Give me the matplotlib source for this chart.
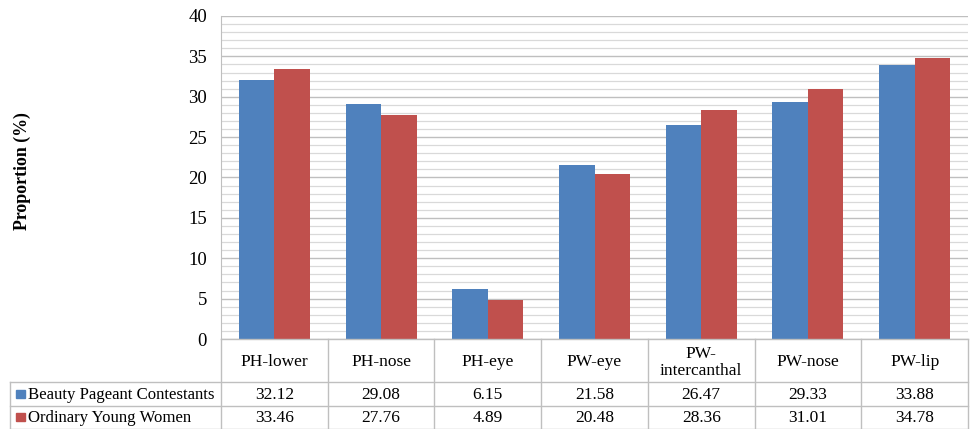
import matplotlib
matplotlib.use("Agg")
import matplotlib.pyplot as plt
from matplotlib.patches import Rectangle
import numpy as np

plt.rcParams["font.family"] = ["Liberation Serif", "DejaVu Serif"]

categories = ["PH-lower", "PH-nose", "PH-eye", "PW-eye", "PW-\nintercanthal", "PW-nose", "PW-lip"]
series_names = ["Beauty Pageant Contestants", "Ordinary Young Women"]
beauty = [32.12, 29.08, 6.15, 21.58, 26.47, 29.33, 33.88]
ordinary = [33.46, 27.76, 4.89, 20.48, 28.36, 31.01, 34.78]
colors = ["#4F81BD", "#C0504D"]

W, H = 972, 429
fig = plt.figure(figsize=(W / 100, H / 100), dpi=100)

# plot area in pixels
x0, x1 = 221, 968
ytop, ybot = 16, 339
ax = fig.add_axes([x0 / W, (H - ybot) / H, (x1 - x0) / W, (ybot - ytop) / H])

n = len(categories)
x = np.arange(n)
bw = 0.333
ax.bar(x - bw / 2, beauty, bw, color=colors[0], zorder=3)
ax.bar(x + bw / 2, ordinary, bw, color=colors[1], zorder=3)

ax.set_xlim(-0.5, n - 0.5)
ax.set_ylim(0, 40)
ax.set_yticks(range(0, 41, 5))
ax.set_yticks(range(0, 41, 1), minor=True)
ax.grid(which="major", axis="y", color="#BFBFBF", lw=1.0, zorder=0)
ax.grid(which="minor", axis="y", color="#D9D9D9", lw=0.9, zorder=0)
ax.set_xticks([])
ax.tick_params(axis="y", which="both", length=0, labelsize=13.5, pad=10)
for s in ["top", "right", "bottom"]:
    ax.spines[s].set_visible(False)
ax.spines["left"].set_color("#BFBFBF")

fig.text(22 / W, (H - 171) / H, "Proportion (%)", rotation=90,
         ha="center", va="center", fontsize=12.9, fontweight="bold")

# data table drawn in figure pixel coordinates
def fx(px):
    return px / W

def fy(py):
    return (H - py) / H

lc = "#BFBFBF"
tleft = 10
r_head, r1, r2, r3 = 339, 382, 405.5, 428.5
cw = (x1 - x0) / n
fs = 12.5

def hline(py, xa, xb):
    fig.add_artist(plt.Line2D([fx(xa), fx(xb)], [fy(py), fy(py)], color=lc, lw=1.0))

def vline(px, ya, yb):
    fig.add_artist(plt.Line2D([fx(px), fx(px)], [fy(ya), fy(yb)], color=lc, lw=1.0))

hline(r_head, x0, x1)
hline(r1, tleft, x1)
hline(r2, tleft, x1)
hline(r3, tleft, x1)
vline(tleft, r1, r3)
for i in range(n + 1):
    vline(x0 + i * cw, r_head, r3)

for i, cat in enumerate(categories):
    cx = x0 + (i + 0.5) * cw
    fig.text(fx(cx), fy((r_head + r1) / 2 + 2), cat, ha="center", va="center",
             fontsize=fs, linespacing=1.05)
    fig.text(fx(cx), fy((r1 + r2) / 2 + 1), f"{beauty[i]:.2f}", ha="center",
             va="center", fontsize=fs)
    fig.text(fx(cx), fy((r2 + r3) / 2 + 1), f"{ordinary[i]:.2f}", ha="center",
             va="center", fontsize=fs)

for j, (name, c) in enumerate(zip(series_names, colors)):
    yc = (r1 + r2) / 2 if j == 0 else (r2 + r3) / 2
    fig.add_artist(Rectangle((fx(16), fy(yc + 4)), fx(9), 8 / H, color=c))
    fig.text(fx(28), fy(yc + 1), name, ha="left", va="center", fontsize=12.1)

fig.savefig("out.png", dpi=100)
